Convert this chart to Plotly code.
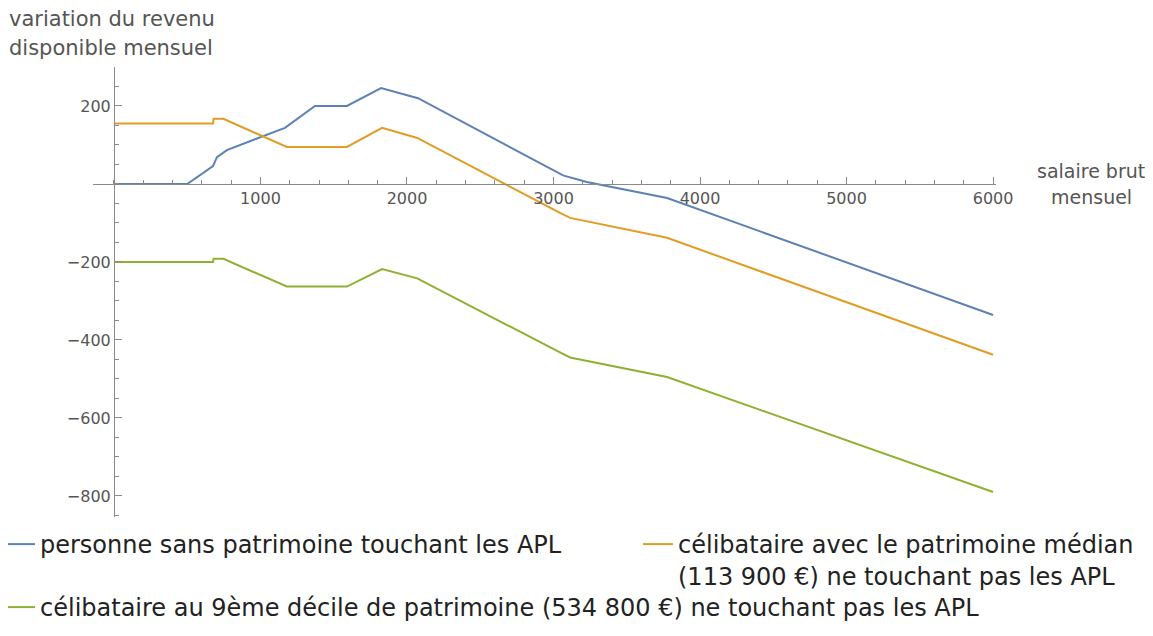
import plotly.graph_objects as go

# Data
blue_x = [0, 500, 676, 703, 771, 1167, 1372, 1590, 1823, 2075, 3065, 3227, 3775, 6000]
blue_y = [0, 0, 46, 69, 87, 144, 200, 200, 246, 220, 22, 5, -36, -336]

orange_x = [0, 676, 680, 747, 1180, 1590, 1830, 2070, 3044, 3113, 3775, 6000]
orange_y = [155, 155, 167, 167, 95, 95, 144, 118, -74, -87, -138, -438]

green_x = [0, 676, 680, 747, 1180, 1590, 1830, 2070, 3044, 3113, 3775, 6000]
green_y = [-200, -200, -192, -192, -263, -263, -218, -242, -432, -445, -495, -790]

x_ticks = [1000, 2000, 3000, 4000, 5000, 6000]
y_ticks = [-800, -600, -400, -200, 200]

names = [
    "personne sans patrimoine touchant les APL",
    "célibataire avec le patrimoine médian<br>(113 900 €) ne touchant pas les APL",
    "célibataire au 9ème décile de patrimoine (534 800 €) ne touchant pas les APL",
]
colors = ["#5E81B5", "#E19C24", "#8FB032"]

# page body has an 8px margin: size the figure so it fits the 1153x636 window
OFF = 8
W, H = 1153 - OFF, 636 - OFF
# target plot area on screen: left 93, right 996, top 67, bottom 517
ml, mt = 93 - OFF, 67 - OFF
mr, mb = W - (996 - OFF), H - (517 - OFF)
pw, ph = W - ml - mr, H - mt - mb
x_range = [-143, 6020]
y_range = [-854, 300]

def px(sx):
    return (sx - OFF - ml) / pw

def py(sy):
    return (H - mb - (sy - OFF)) / ph

fig = go.Figure()
series = [(blue_x, blue_y), (orange_x, orange_y), (green_x, green_y)]
legends = ["legend", "legend2", "legend3"]
for (xs, ys), name, c, lg in zip(series, names, colors, legends):
    fig.add_trace(go.Scatter(x=xs, y=ys, mode="lines", name=name,
                             line=dict(color=c, width=2), legend=lg))

axis_col = "#8a8a8a"
tick_font = dict(family="DejaVu Sans", size=16, color="#555555")
legend_font = dict(family="DejaVu Sans", size=24, color="#222222")

def leg(sx, sy):
    return dict(xref="paper", yref="paper", x=px(sx), y=py(sy),
                xanchor="left", yanchor="top", font=legend_font, valign="top",
                bgcolor="rgba(0,0,0,0)", borderwidth=0, itemwidth=30)

fig.update_layout(
    width=W, height=H,
    margin=dict(l=ml, r=mr, t=mt, b=mb, autoexpand=False),
    paper_bgcolor="white", plot_bgcolor="white",
    xaxis=dict(range=x_range, showgrid=False, zeroline=False,
               showline=True, linecolor=axis_col, linewidth=1,
               anchor="free",
               position=(0 - y_range[0]) / (y_range[1] - y_range[0]),
               tickvals=x_ticks, ticks="inside", ticklen=7, tickcolor=axis_col,
               minor=dict(dtick=200, tick0=0, ticks="inside", ticklen=4, tickcolor=axis_col),
               tickfont=tick_font, fixedrange=True, automargin=False),
    yaxis=dict(range=y_range, showgrid=False, zeroline=False,
               showline=True, linecolor=axis_col, linewidth=1,
               anchor="free",
               position=(0 - x_range[0]) / (x_range[1] - x_range[0]),
               tickvals=y_ticks, ticks="inside", ticklen=7, tickcolor=axis_col,
               minor=dict(dtick=50, tick0=0, ticks="inside", ticklen=4, tickcolor=axis_col),
               tickfont=tick_font, fixedrange=True, automargin=False),
    legend=leg(0, 522),
    legend2=leg(638, 522),
    legend3=leg(0, 585),
    showlegend=True,
)

lab_font = dict(family="DejaVu Sans", size=21, color="#555555")
for txt, sy in [("variation du revenu", 19), ("disponible mensuel", 48)]:
    fig.add_annotation(text=txt, xref="paper", yref="paper",
                       x=px(7), y=py(sy), xanchor="left", yanchor="middle",
                       showarrow=False, font=lab_font)
lab_font2 = dict(family="DejaVu Sans", size=19, color="#555555")
for txt, sy in [("salaire brut", 171), ("mensuel", 197)]:
    fig.add_annotation(text=txt, xref="paper", yref="paper",
                       x=px(1091), y=py(sy), xanchor="center", yanchor="middle",
                       showarrow=False, font=lab_font2)

fig.write_html("out.html")
